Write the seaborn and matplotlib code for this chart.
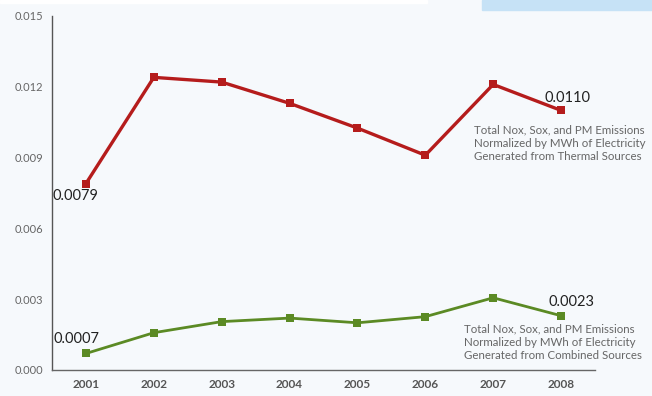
import matplotlib
matplotlib.use("Agg")
import matplotlib.pyplot as plt
import matplotlib.patches as mpatches
import seaborn as sns
import pandas as pd

years = [2001, 2002, 2003, 2004, 2005, 2006, 2007, 2008]
thermal = [0.0079, 0.0124, 0.0122, 0.0113, 0.01025, 0.0091, 0.0121, 0.0110]
combined = [0.0007, 0.00158, 0.00205, 0.0022, 0.0020, 0.00226, 0.00306, 0.0023]
y_ticks = [0.000, 0.003, 0.006, 0.009, 0.012, 0.015]
thermal_label = "Total Nox, Sox, and PM Emissions\nNormalized by MWh of Electricity\nGenerated from Thermal Sources"
combined_label = "Total Nox, Sox, and PM Emissions\nNormalized by MWh of Electricity\nGenerated from Combined Sources"

RED = "#b51c1c"
GREEN = "#5b8a24"
BG = "#f6f9fc"

sns.set_style("white")
plt.rcParams["font.family"] = ["Lato", "DejaVu Sans"]

df = pd.DataFrame({"year": years * 2,
                   "value": thermal + combined,
                   "series": ["thermal"] * len(years) + ["combined"] * len(years)})

W, H = 652, 396
fig = plt.figure(figsize=(W / 100, H / 100), dpi=100, facecolor=BG)
ax = fig.add_axes([52 / W, (H - 370) / H, (595 - 52) / W, (370 - 16) / H])
ax.set_facecolor(BG)

# light blue header tab in the upper right corner
fig.patches.append(mpatches.Rectangle((482 / W, 1 - 10 / H), (W - 482) / W, 10 / H,
                                      transform=fig.transFigure, color="#c6e2f6",
                                      zorder=0))
fig.patches.append(mpatches.Rectangle((0, 1 - 3 / H), 427 / W, 3 / H,
                                      transform=fig.transFigure, color="white",
                                      zorder=0))

sns.lineplot(data=df[df.series == "thermal"], x="year", y="value", ax=ax,
             color=RED, linewidth=2.4, marker="s", markersize=5.5,
             markeredgewidth=0, markerfacecolor=RED)
sns.lineplot(data=df[df.series == "combined"], x="year", y="value", ax=ax,
             color=GREEN, linewidth=2.0, marker="s", markersize=5.5,
             markeredgewidth=0, markerfacecolor=GREEN)

ax.set_xlim(2000.5, 2008.5)
ax.set_ylim(0, 0.015)
ax.set_xticks(years)
ax.set_xticklabels([str(y) for y in years], fontsize=8.5, fontweight="bold",
                   color="#555555")
ax.set_yticks(y_ticks)
ax.set_yticklabels([f"{t:.3f}" for t in y_ticks], fontsize=8, color="#666666")
ax.set_xlabel("")
ax.set_ylabel("")

for s in ["top", "right"]:
    ax.spines[s].set_visible(False)
ax.spines["left"].set_color("#555555")
ax.spines["bottom"].set_color("#666666")
ax.spines["left"].set_linewidth(1.0)
ax.spines["bottom"].set_linewidth(1.0)
ax.tick_params(axis="y", direction="in", length=9.5, width=1, color="#444444", pad=6.5)
ax.tick_params(axis="x", length=0, pad=6.5)

# value labels at the first and last year
ax.text(years[0] - 0.49, thermal[0] - 0.00022, f"{thermal[0]:.4f}", fontsize=10.5,
        color="#222222", va="top", ha="left")
ax.text(years[-1] - 0.25, thermal[-1] + 0.00022, f"{thermal[-1]:.4f}", fontsize=10.5,
        color="#222222", va="bottom", ha="left")
ax.text(years[0] - 0.48, combined[0] + 0.0003, f"{combined[0]:.4f}", fontsize=10.5,
        color="#222222", va="bottom", ha="left")
ax.text(years[-1] - 0.19, combined[-1] + 0.0003, f"{combined[-1]:.4f}", fontsize=10.5,
        color="#222222", va="bottom", ha="left")

# series descriptions
ax.text(2006.72, 0.0104, thermal_label, fontsize=8.3, color="#666666",
        va="top", ha="left", linespacing=1.25, clip_on=False)
ax.text(2006.57, 0.00198, combined_label, fontsize=8.3, color="#666666",
        va="top", ha="left", linespacing=1.25, clip_on=False)

fig.savefig("out.png", dpi=100, facecolor=BG)
